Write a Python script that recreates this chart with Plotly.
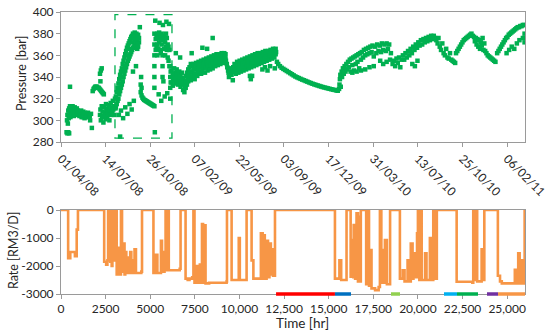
import pandas as pd
import plotly.graph_objects as go

# ---------------- data ----------------
START_DATE = "2008-04-01"          # day 0 of the top chart
END_DAY = 1083                      # top axis end (same span as 26000 hr)

# pressure observations: (day since START_DATE, pressure bar)
pressure_early = [
    (13, 289), (15, 288), (17, 289), (19, 288), (21, 331),
    (14, 300), (15, 305), (16, 297), (17, 309), (18, 302), (19, 311), (20, 306), (21, 313), (22, 303),
    (23, 309), (24, 312), (25, 305), (26, 310), (27, 313), (28, 307), (29, 311), (30, 304), (31, 309),
    (32, 312), (33, 306), (34, 310), (36, 307), (37, 311), (38, 305), (39, 309), (40, 306), (42, 308),
    (43, 304), (44, 307), (46, 305), (47, 309), (48, 303), (50, 306), (51, 303), (52, 308), (54, 305),
    (55, 302), (56, 307), (58, 304), (59, 306), (60, 303), (62, 305), (63, 307), (64, 303), (66, 305),
    (67, 304), (68, 300), (70, 306), (72, 293),
    (74, 327), (76, 329), (78, 330), (80, 331), (82, 331), (84, 331), (86, 330), (88, 330), (90, 329),
    (92, 328), (94, 327), (96, 326), (98, 325), (100, 324), (91, 343), (93, 346), (95, 348), (92, 336),
    (91, 305), (92, 310), (93, 300), (95, 313), (96, 303), (97, 308), (99, 298), (100, 312), (101, 304),
    (103, 307), (104, 301), (105, 315), (106, 309), (108, 303), (109, 311), (110, 306), (112, 314),
    (113, 300), (114, 309), (116, 316), (117, 305), (118, 312), (120, 307), (121, 318), (122, 310),
    (124, 313), (125, 305), (126, 320), (127, 311),
]

pressure_box = [
    (128, 312), (128, 322), (130, 315), (130, 326), (132, 318), (132, 330), (134, 320), (134, 334),
    (136, 324), (136, 338), (138, 327), (138, 342), (140, 330), (140, 345), (142, 333), (142, 348),
    (144, 336), (144, 352), (146, 340), (146, 355), (148, 343), (148, 358), (150, 346), (150, 361),
    (152, 349), (152, 364), (154, 352), (154, 367), (156, 355), (156, 369), (158, 357), (158, 371),
    (160, 359), (160, 373), (162, 361), (162, 375), (164, 363), (164, 377), (166, 365), (166, 378),
    (168, 367), (168, 380), (170, 368), (170, 376), (172, 370), (172, 381), (174, 369), (174, 378),
    (176, 372), (176, 380), (178, 366), (178, 375), (180, 368), (180, 379), (182, 372), (182, 376),
    (184, 386), (137, 334), (143, 340), (149, 350), (155, 360), (161, 366), (167, 372), (173, 374),
    (179, 371), (135, 305), (140, 309), (145, 302), (150, 312), (155, 306), (160, 315), (165, 310),
    (170, 318), (168, 345), (175, 350), (138, 285),
    (186, 326), (188, 323), (190, 321), (192, 320), (194, 319), (196, 318.5), (198, 318), (200, 317.5),
    (202, 317), (204, 316.5), (206, 316), (208, 315.5), (210, 315), (212, 314.5), (214, 314),
    (216, 313.5), (218, 313), (186, 333), (187, 340), (188, 330),
    (218, 330), (218, 340), (218, 350), (218, 360), (218, 370), (218, 380), (220, 392), (219, 289),
    (221, 375), (221, 365), (223, 378), (223, 368), (225, 380), (225, 370), (225, 360), (227, 376),
    (227, 366), (229, 381), (229, 372), (231, 378), (231, 365), (233, 374), (233, 362), (235, 380),
    (235, 370), (237, 350), (237, 340), (237, 360), (239, 336), (239, 375), (241, 378), (241, 366),
    (243, 372), (243, 360), (245, 380), (245, 368), (247, 376), (247, 365), (249, 370), (249, 358),
    (251, 368), (251, 355), (253, 365), (253, 350), (230, 390), (238, 388), (246, 391), (252, 389),
    (228, 324), (234, 318), (242, 322), (248, 325),
    (255, 320), (255, 330), (255, 340), (255, 350), (256, 345), (256, 335),
]

pressure_2009 = [
    (258, 335), (258, 346), (261, 332), (261, 342), (264, 338), (264, 348), (267, 334), (267, 344),
    (268, 362), (270, 337), (270, 347), (273, 333), (273, 343), (276, 336), (276, 345), (278, 358),
    (279, 331), (279, 341), (282, 334), (282, 344), (285, 328), (285, 338), (288, 326), (288, 336),
    (291, 330), (291, 341), (294, 333), (294, 344), (297, 336), (297, 347), (300, 339), (300, 349),
    (303, 337), (303, 352), (305, 362), (306, 340), (306, 350), (309, 342), (309, 352), (312, 338),
    (312, 348), (315, 343), (315, 353), (318, 341), (318, 351), (321, 344), (321, 354), (324, 345),
    (324, 353), (327, 343), (327, 355), (330, 367), (330, 346), (333, 348), (333, 356), (336, 344),
    (336, 354), (339, 349), (339, 357), (341, 366), (342, 346), (342, 355), (345, 350), (345, 358),
    (348, 347), (348, 356), (351, 351), (351, 359), (354, 376), (354, 348), (354, 357), (357, 352),
    (357, 360), (360, 350), (360, 358), (363, 353), (363, 361), (366, 351), (366, 359), (369, 354),
    (369, 361), (372, 352), (372, 360), (375, 355), (375, 362), (378, 353), (378, 361), (381, 356),
    (381, 362), (384, 357), (384, 361), (387, 352), (390, 346), (392, 340), (394, 343), (396, 347),
    (398, 342), (401, 337), (402, 349), (405, 345), (405, 352), (408, 343), (408, 350), (411, 346),
    (411, 354), (414, 344), (414, 352), (417, 347), (417, 355), (420, 345), (420, 353), (423, 348),
    (423, 356), (426, 346), (426, 354), (429, 349), (429, 357), (432, 347), (432, 355), (435, 350),
    (435, 358), (438, 348), (438, 356), (441, 341), (441, 351), (441, 359), (443, 338), (446, 341),
    (444, 349), (444, 357), (447, 352), (447, 360), (450, 350), (450, 358), (453, 353), (453, 361),
    (456, 351), (456, 359), (459, 354), (459, 362), (462, 352), (462, 360), (465, 355), (465, 362),
    (468, 353), (468, 361), (471, 356), (471, 363), (474, 354), (474, 362), (477, 357), (477, 364),
    (480, 355), (480, 363), (483, 358), (483, 364), (486, 356), (486, 363), (489, 359), (489, 365),
    (492, 357), (492, 364), (495, 360), (495, 366), (498, 358), (498, 365), (501, 361), (501, 366),
    (499, 348), (470, 347), (476, 349), (482, 346), (488, 350),
]

pressure_2009_mid = [
    (259, 340), (262, 337), (265, 343), (268, 339), (271, 342), (274, 338), (277, 340), (280, 336),
    (283, 339), (286, 333), (289, 331), (292, 336), (295, 339), (298, 342), (301, 344), (304, 345),
    (307, 345), (310, 347), (313, 343), (316, 348), (319, 346), (322, 349), (325, 349), (328, 349),
    (331, 351), (334, 352), (337, 349), (340, 353), (343, 351), (346, 354), (349, 351), (352, 355),
    (355, 353), (358, 356), (361, 354), (364, 357), (367, 355), (370, 357), (373, 356), (376, 358),
    (379, 357), (382, 359), (385, 355), (388, 349), (391, 344), (393, 348), (397, 344), (400, 346),
    (403, 345), (406, 348), (409, 347), (412, 350), (415, 348), (418, 351), (421, 349), (424, 352),
    (427, 350), (430, 353), (433, 351), (436, 354), (439, 352), (442, 355), (445, 353), (448, 356),
    (451, 354), (454, 357), (457, 355), (460, 358), (463, 356), (466, 359), (469, 357), (472, 360),
    (475, 358), (478, 361), (481, 359), (484, 361), (487, 360), (490, 362), (493, 361), (496, 363),
    (499, 362), (502, 363),
]

pressure_shutin = [
    (504, 354), (507, 352), (511, 350), (515, 348.5), (519, 347.5), (523, 346.5), (527, 345.5),
    (531, 344.5), (535, 343.5), (539, 342.5), (543, 341.5), (547, 340.5), (551, 339.7), (555, 339),
    (559, 338.3), (563, 337.6), (567, 337), (571, 336.3), (575, 335.7), (579, 335), (583, 334.4),
    (587, 333.8), (591, 333.2), (595, 332.7), (599, 332.2), (603, 331.7), (607, 331.2), (611, 330.7),
    (615, 330.3), (619, 329.9), (623, 329.5), (627, 329.1), (631, 328.7), (635, 328.3), (639, 328),
    (643, 327.6), (646, 327.3),
]

pressure_2010 = [
    (649, 329), (650, 333), (651, 338), (652, 342), (653, 331), (655, 345), (656, 340), (658, 348),
    (660, 343), (662, 350), (664, 345), (666, 352), (668, 347), (670, 354), (672, 349), (674, 356),
    (676, 345), (678, 357), (680, 351), (682, 358), (684, 346), (686, 359), (688, 352), (690, 360),
    (692, 354), (694, 361), (696, 348), (698, 362), (700, 356), (702, 363),
    (680, 344), (690, 345), (700, 346), (710, 347), (720, 349), (730, 350),
    (705, 358), (707, 365), (710, 360), (712, 366), (715, 361), (717, 367), (720, 362), (722, 368),
    (725, 363), (727, 369), (730, 359), (733, 368), (736, 362), (738, 370), (741, 364), (744, 369),
    (747, 363), (749, 371), (752, 365), (755, 370), (758, 364), (760, 371), (763, 366), (766, 370),
    (745, 355), (752, 352), (760, 354), (768, 356), (770, 362),
    (774, 352), (777, 355), (780, 350), (783, 357), (786, 353), (789, 358), (792, 349), (795, 356),
    (798, 360), (801, 356), (804, 362), (807, 358), (810, 364), (813, 360), (816, 366), (819, 362),
    (822, 368), (825, 365), (828, 370), (831, 367), (834, 372), (837, 369), (840, 374), (843, 370),
    (846, 375), (849, 372), (852, 376), (855, 373), (858, 377), (861, 374), (864, 378), (867, 375),
    (870, 378), (873, 376), (820, 352), (826, 350), (832, 355),
    (876, 374), (879, 371), (881, 376), (884, 368), (887, 365), (890, 371), (893, 362), (896, 360),
    (899, 366), (902, 358), (905, 357), (908, 362), (911, 356), (914, 355), (917, 354), (920, 353),
    (922, 362), (925, 364), (928, 366), (931, 368), (934, 370), (937, 372), (940, 374), (943, 375),
    (946, 376), (949, 377), (952, 378), (955, 379), (958, 380), (961, 378),
    (964, 377), (966, 373), (968, 376), (970, 370), (972, 375), (974, 368), (976, 374), (978, 366),
    (980, 372), (982, 369), (984, 376), (986, 365), (988, 371), (990, 364), (993, 362), (996, 360),
    (999, 359), (1002, 358), (1005, 357), (1008, 356), (1011, 355), (1014, 354),
    (1018, 362), (1021, 364), (1024, 366), (1027, 368), (1030, 370), (1033, 372), (1036, 374),
    (1039, 376), (1042, 377), (1045, 379), (1048, 380), (1051, 381), (1054, 382), (1057, 383),
    (1060, 384), (1063, 385), (1066, 386), (1069, 386), (1072, 387), (1075, 387), (1078, 388),
    (1081, 388), (1040, 362), (1046, 365), (1052, 368), (1058, 366), (1064, 371), (1070, 374),
    (1078, 376), (1082, 372), (1082, 380),
]

# rate history (hours, RM3/D), drawn as steps
rate_hr = [0, 400, 520, 740, 780, 880, 950,
           2420, 2530, 2600, 2640, 2680, 2720, 2760, 2800, 2840, 2880, 2920, 2960, 3000, 3040, 3080,
           3120, 3160, 3200, 3260, 3300, 3360, 3420, 3500, 3560, 3600, 3660, 3720, 3800, 3880, 3940,
           4000, 4060, 4120, 4200, 4500, 4540,
           5180, 5300, 5400, 5600, 5660, 5800, 5860, 5920, 6000, 6040, 6650, 6700,
           6980, 7100, 7200, 7350, 7420, 7480, 7560, 7620, 7700, 7780, 7860, 7900, 7960, 8040, 8100,
           8300, 9280, 9300,
           9560, 9930, 9960, 10020, 10400, 10680, 10780, 11200, 11300, 11350, 11420, 11520, 11600,
           11680, 11760, 11800, 11880, 11990,
           15350, 15500, 15600, 15700, 15950, 16000, 16230, 16300, 16380, 16400, 16480, 16560, 16640,
           16660, 16740, 16800, 17100, 17200, 17260, 17320, 17400, 17600, 17800, 17870, 17950, 18060,
           18140, 18150, 18260, 18440,
           18990, 19150, 19250, 19420, 19500, 19600, 19700, 19750, 19850, 19950, 20000, 20080, 20140,
           20210, 20400, 20480, 20670, 20750, 20860, 20920, 21060,
           22170, 23050, 23100, 23180, 23250, 23320, 23570, 23620, 23720,
           24480, 24600, 24700, 25430, 25500, 25620, 25700, 25800, 25850, 25980]
rate_val = [0, -1720, -1500, -1500, -1650, -700, 0,
            -1850, -1950, -1800, 0, -1800, 0, -1850, 0, -2000, -1800, 0, -1800, -300, -1800, 0,
            -2300, -1500, -2250, -1350, -2300, 0, -2200, -1200, -2300, -1500, -2250, -1700, -2250, -1500, -2250,
            -1800, -2250, -1400, -2250, -2200, 0,
            -2250, -1600, -2250, -1100, -2200, -1500, 0, -2150, 0, -2150, -2100, 0,
            -2450, -2500, -2450, -2400, 0, -2600, -2550, -2000, -2600, -1950, -2600, -500, -2600, -550, -2620,
            -2600, -2550, 0,
            -2500, -2500, -1000, -2500, 0, -1800, -2450, -830, -2450, -900, -2450, -1100, -2400,
            -1200, -2300, -1400, -2350, 0,
            -2450, -2450, -1800, -2500, -2500, 0, -2380, -1070, -2400, -535, -2450, -120, -2550,
            -240, -2550, 0, -2650, 0, -2700, -1430, -2800, -2860, -2750, 0, -2600, -1430,
            -2600, -1070, -2650, 0,
            -2450, -2150, -2550, -1800, -2550, -1200, -2450, -1550, -2400, -830, 0, -2500, 0,
            -2500, -1550, -2500, -1000, -2500, 0, -2450, 0,
            -2560, -2600, 0, -2500, 0, -2550, -1400, -2500, 0,
            -2350, -2550, -2620, -2140, -2620, -1550, -2620, -1800, -2620, 0]

# coloured period markers along the rate axis (start hr, end hr, colour)
period_start = [12050, 15350, 18490, 21460, 22190, 23870, 24490]
period_end = [15350, 16250, 18995, 22190, 23365, 24490, 26000]
period_color = ["#FF0000", "#0070C0", "#92D050", "#00B0F0", "#00B050", "#7030A0", "#F79646"]

# dashed highlight box on the pressure chart
box_days = [126, 259]
box_bar = [283.5, 397.5]

date_ticks = ["2008-04-01", "2008-07-14", "2008-10-26", "2009-02-07", "2009-05-22", "2009-09-03",
              "2009-12-17", "2010-03-31", "2010-07-13", "2010-10-25", "2011-02-06"]
date_labels = ["01/04/08", "14/07/08", "26/10/08", "07/02/09", "22/05/09", "03/09/09",
               "17/12/09", "31/03/10", "13/07/10", "25/10/10", "06/02/11"]
hr_ticks = [0, 2500, 5000, 7500, 10000, 12500, 15000, 17500, 20000, 22500, 25000]
hr_labels = ["0", "2500", "5000", "7500", "10,000", "12,500", "15,000", "17,500", "20,000", "22,500", "25,000"]

# ---------------- figure ----------------
base = pd.Timestamp(START_DATE)
def to_date(d):
    return base + pd.Timedelta(days=d)

pts = pressure_early + pressure_box + pressure_2009 + pressure_2009_mid + pressure_shutin + pressure_2010
px_dates = [to_date(d) for d, _ in pts]
px_vals = [v for _, v in pts]

GREEN = "#00B050"
ORANGE = "#F79646"
AX = "#9A9A9A"
FONT = "Lato"
TXT = "#262626"
W, H = 550.0, 336.0
ML, MR = 61, 25
PW = W - ML - MR

fig = go.Figure()
fig.add_trace(go.Scatter(x=px_dates, y=px_vals, mode="markers",
                         marker=dict(symbol="square", size=4.5, color=GREEN, line=dict(width=0)),
                         xaxis="x", yaxis="y", showlegend=False, hoverinfo="skip"))
fig.add_trace(go.Scatter(x=rate_hr, y=rate_val, mode="lines", line=dict(color=ORANGE, width=2.6, shape="hv"),
                         xaxis="x2", yaxis="y2", showlegend=False, hoverinfo="skip"))

top_dom = [1 - 142 / H, 1 - 12 / H]
bottom_dom = [1 - 294 / H, 1 - 210 / H]

fig.add_shape(type="rect", xref="x", yref="y",
              x0=to_date(box_days[0]), x1=to_date(box_days[1]), y0=box_bar[0], y1=box_bar[1],
              line=dict(color=GREEN, width=1.3, dash="dash"), fillcolor="rgba(0,0,0,0)")

for s, e, c in zip(period_start, period_end, period_color):
    fig.add_shape(type="line", xref="x2", yref="paper", x0=s, x1=e, y0=bottom_dom[0], y1=bottom_dom[0],
                  line=dict(color=c, width=3.5), layer="above")

# axis titles placed as annotations (paper coords from pixel positions)
def px_x(px):
    return (px - ML) / PW
def px_y(py):
    return 1 - py / H

title_font = dict(family=FONT, size=12.5, color=TXT)
fig.add_annotation(text="Pressure [bar]", textangle=-90, x=px_x(21), y=px_y(74), xref="paper", yref="paper",
                   showarrow=False, xanchor="center", yanchor="middle", font=title_font)
fig.add_annotation(text="Rate [RM3/D]", textangle=-90, x=px_x(13), y=px_y(251), xref="paper", yref="paper",
                   showarrow=False, xanchor="center", yanchor="middle", font=title_font)
fig.add_annotation(text="Time [hr]", x=px_x(302), y=px_y(323), xref="paper", yref="paper",
                   showarrow=False, xanchor="center", yanchor="middle",
                   font=dict(family=FONT, size=13.5, color=TXT))

axis_common = dict(showline=True, linecolor=AX, linewidth=1, mirror=True, showgrid=False, zeroline=False,
                   automargin=False,
                   ticks="outside", ticklen=4, tickcolor=AX, tickfont=dict(family=FONT, size=12, color=TXT))

fig.update_layout(
    width=W, height=H,
    margin=dict(l=ML, r=MR, t=0, b=0, autoexpand=False),
    paper_bgcolor="white", plot_bgcolor="white",
    font=dict(family=FONT, size=12, color=TXT),
    xaxis=dict(domain=[0, 1], anchor="y", type="date",
               range=[to_date(0), to_date(END_DAY)],
               tickvals=[pd.Timestamp(t) for t in date_ticks], ticktext=date_labels, tickangle=45,
               **axis_common),
    yaxis=dict(domain=top_dom, anchor="x", range=[280, 400], tickvals=[280, 300, 320, 340, 360, 380, 400],
               **axis_common),
    xaxis2=dict(domain=[0, 1], anchor="y2", range=[0, 26000], tickvals=hr_ticks, ticktext=hr_labels,
                **axis_common),
    yaxis2=dict(domain=bottom_dom, anchor="x2", range=[-3000, 0], tickvals=[-3000, -2000, -1000, 0],
                ticktext=["-3000", "-2000", "-1000", "0"],
                **axis_common),
)

fig.write_html("out.html", config={"displayModeBar": False},
               post_script="document.body.style.margin='0px';document.body.style.overflow='hidden';")
